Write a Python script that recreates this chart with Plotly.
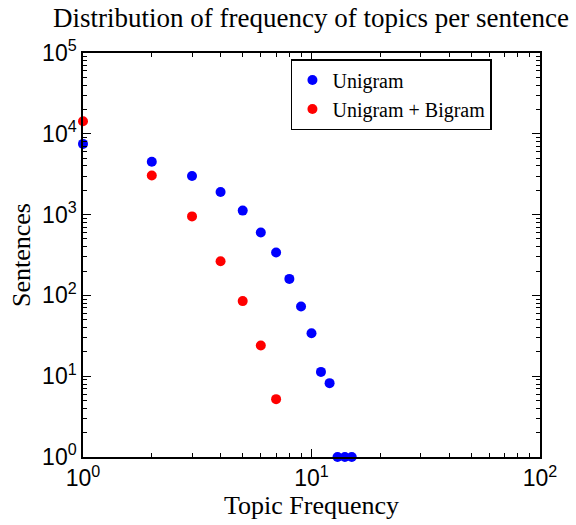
import plotly.graph_objects as go

topic_freq_uni = [1, 2, 3, 4, 5, 6, 7, 8, 9, 10, 11, 12, 13, 14, 15]
sentences_uni = [7500, 4500, 3000, 1900, 1120, 600, 340, 160, 73, 34, 11.3, 8.2, 1, 1, 1]

topic_freq_bi = [1, 2, 3, 4, 5, 6, 7]
sentences_bi = [14300, 3050, 950, 265, 85, 24, 5.2]

x_tickvals = [1, 10, 100]
x_ticktext = ["10<sup>0</sup>", "10<sup>1</sup>", "10<sup>2</sup>"]
y_tickvals = [1, 10, 100, 1000, 10000, 100000]
y_ticktext = ["10<sup>0</sup>", "10<sup>1</sup>", "10<sup>2</sup>", "10<sup>3</sup>", "10<sup>4</sup>", "10<sup>5</sup>"]

x_minor = [m * d for d in x_tickvals[:-1] for m in range(2, 10)]
y_minor = [m * d for d in y_tickvals[:-1] for m in range(2, 10)]

serif = "Liberation Serif"
sans = "Liberation Sans"

fig = go.Figure()
fig.add_trace(go.Scatter(x=topic_freq_uni, y=sentences_uni, mode="markers", name="Unigram",
                         marker=dict(color="#0000ff", size=10), cliponaxis=False))
fig.add_trace(go.Scatter(x=topic_freq_bi, y=sentences_bi, mode="markers", name="Unigram + Bigram",
                         marker=dict(color="#ff0000", size=10), cliponaxis=False))

axis_common = dict(
    type="log", showline=True, linecolor="black", linewidth=1.5, mirror="allticks",
    ticks="inside", ticklen=8, tickcolor="black", showgrid=False, zeroline=False,
    tickfont=dict(family=sans, size=23, color="black"),
)

fig.update_xaxes(range=[0, 2], tickvals=x_tickvals, ticktext=x_ticktext,
                 minor=dict(tickvals=x_minor, ticks="inside", ticklen=4, tickcolor="black", showgrid=False),
                 title=dict(text="Topic Frequency", font=dict(family=serif, size=26, color="black"), standoff=2),
                 **axis_common)
fig.update_yaxes(range=[0, 5], tickvals=y_tickvals, ticktext=y_ticktext,
                 minor=dict(tickvals=y_minor, ticks="inside", ticklen=4, tickcolor="black", showgrid=False),
                 title=dict(text="Sentences", font=dict(family=serif, size=26, color="black"), standoff=4),
                 **axis_common)

fig.update_layout(
    width=576, height=525,
    margin=dict(l=83, r=36, t=53, b=68),
    paper_bgcolor="white", plot_bgcolor="white",
    title=dict(text="Distribution of frequency of topics per sentence", x=0.54, xanchor="center",
               y=0.984, yanchor="top", font=dict(family=serif, size=27, color="black")),
    legend=dict(x=0.455, y=0.985, xanchor="left", yanchor="top", bordercolor="black", borderwidth=1.5,
                bgcolor="white", font=dict(family=serif, size=20, color="black"),
                tracegroupgap=0),
    showlegend=True,
)

fig.write_html("out.html")
